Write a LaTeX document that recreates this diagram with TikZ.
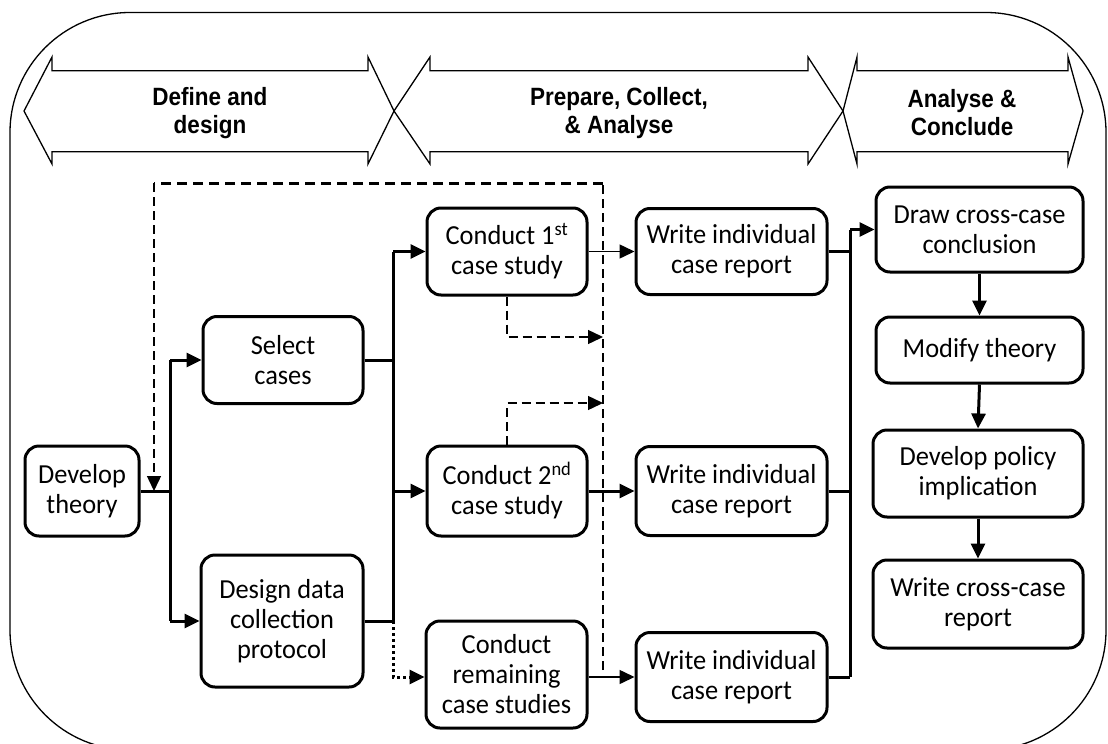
\documentclass[tikz,border=0pt]{standalone}
\usepackage{fontspec}
\setmainfont{Carlito}[FakeStretch=0.96]
\newfontfamily\bannerfont{Liberation Sans}[FakeStretch=0.9]
\usetikzlibrary{arrows.meta}

\begin{document}
\begin{tikzpicture}[x=1pt,y=-1pt,
  box/.style={draw, line width=3pt, rounded corners=14pt, align=center,
    inner sep=0pt, font=\fontsize{27.5}{30}\selectfont},
  band/.style={draw, line width=1.3pt, line join=miter},
  bandtext/.style={align=center, inner sep=0pt,
    font=\bannerfont\bfseries\fontsize{25}{28}\selectfont},
  link/.style={line width=3pt},
  thinlink/.style={line width=1.5pt},
  tip/.style={-{Triangle[length=15pt,width=14pt]}},
  fbthick/.style={line width=3pt, dash pattern=on 10pt off 6pt},
  fbthin/.style={line width=1.4pt, dash pattern=on 9pt off 5pt},
  dots/.style={line width=3pt, dash pattern=on 3pt off 3pt}
]
\useasboundingbox (0,0) rectangle (1108,744);

% outer frame
\draw[line width=1.3pt, rounded corners=120pt] (10,12.5) rectangle (1106,750);

% phase banners
\draw[band] (52,70.7) -- (368,70.7) -- (368,57) -- (394,111) -- (368,164)
  -- (368,151.7) -- (52,151.7) -- (52,164) -- (24,111) -- (52,57) -- cycle;
\draw[band] (430,70.7) -- (808,70.7) -- (808,57) -- (843,111) -- (808,164)
  -- (808,151.7) -- (430,151.7) -- (430,164) -- (394,111) -- (430,57) -- cycle;
\draw[band] (857,70.7) -- (1068,70.7) -- (1068,57) -- (1083,111) -- (1068,164)
  -- (1068,151.7) -- (857,151.7) -- (857,164) -- (843,111) -- (857,57) -- cycle;
\node[bandtext] (ph1) at (210,113) {Define and\\design};
\node[bandtext] (ph2) at (619,113) {Prepare, Collect,\\\& Analyse};
\node[bandtext] (ph3) at (962,113) {Analyse \&\\Conclude};

% process boxes
\node[box, minimum width=114pt, minimum height=90pt] (dev) at (82,491) {Develop\\theory};
\node[box, minimum width=160pt, minimum height=87pt] (sel) at (283,360) {Select\\cases};
\node[box, minimum width=162pt, minimum height=132pt] (des) at (282,621) {Design data\\collection\\protocol};
\node[box, minimum width=160pt, minimum height=87pt] (c1) at (507,251.5) {Conduct 1\textsuperscript{st}\\case study};
\node[box, minimum width=160pt, minimum height=90pt] (c2) at (507,491) {Conduct 2\textsuperscript{nd}\\case study};
\node[box, minimum width=161pt, minimum height=107pt] (cr) at (506.5,674.5) {Conduct\\remaining\\case studies};
\node[box, minimum width=191pt, minimum height=86pt] (w1) at (731.5,251.5) {Write individual\\case report};
\node[box, minimum width=191pt, minimum height=89pt] (w2) at (731.5,491) {Write individual\\case report};
\node[box, minimum width=191pt, minimum height=89pt] (w3) at (731.5,677) {Write individual\\case report};
\node[box, minimum width=207pt, minimum height=85pt] (dcc) at (979.5,229.5) {Draw cross-case\\conclusion};
\node[box, minimum width=207pt, minimum height=66pt] (mod) at (979.5,350) {Modify theory};
\node[box, minimum width=210pt, minimum height=87pt] (pol) at (978,473.5) {Develop policy\\implication};
\node[box, minimum width=210pt, minimum height=88pt] (wcc) at (978,604) {Write cross-case\\report};

% junction columns
\coordinate (ja) at (170,491);
\coordinate (jb) at (393,491);
\coordinate (jc) at (850,491);

% define and design
\draw[link] (dev.east) -- (ja);
\draw[link] (ja |- sel.west) -- (ja |- des.west);
\draw[link, tip] (ja |- sel.west) -- (sel.west);
\draw[link, tip] (ja |- des.west) -- (des.west);

% into the case studies
\draw[link] (sel.east) -- (jb |- sel.east);
\draw[link] (des.east) -- (jb |- des.east);
\draw[link] (jb |- c1.west) -- (jb |- des.east);
\draw[link, tip] (jb |- c1.west) -- (c1.west);
\draw[link, tip] (jb |- c2.west) -- (c2.west);
\draw[dots, tip] (jb |- des.east) -- (jb |- w3.west) -- (cr.west |- w3.west);

% case studies to individual reports
\draw[thinlink, tip] (c1.east) -- (w1.west);
\draw[link, tip] (c2.east) -- (w2.west);
\draw[thinlink, tip] (cr.east |- w3.west) -- (w3.west);

% reports to cross-case analysis
\draw[link] (w1.east) -- (jc |- w1.east);
\draw[link] (w2.east) -- (jc |- w2.east);
\draw[link] (w3.east) -- (jc |- w3.east);
\draw[link] (jc |- dcc.west) -- (jc |- w3.east);
\draw[link, tip] (jc |- dcc.west) -- (dcc.west);
\draw[link, tip] (dcc.south) -- (mod.north);
\draw[link, tip] (mod.south) -- (pol.north);
\draw[link, tip] (pol.south) -- (wcc.north);

% feedback loop back to theory
\coordinate (fa) at (603,670);
\coordinate (fb) at (603,183);
\coordinate (fc) at (154,183);
\coordinate (fd) at (154,491);
\coordinate (ga) at (603,337);
\coordinate (gb) at (603,403);
\draw[fbthin] (fa) -- (fb);
\draw[fbthick] (fb) -- (fc);
\draw[fbthin, tip] (fc) -- (fd);
\draw[fbthin, tip] (c1.south) |- (ga);
\draw[fbthin, tip] (c2.north) |- (gb);
\end{tikzpicture}
\end{document}
